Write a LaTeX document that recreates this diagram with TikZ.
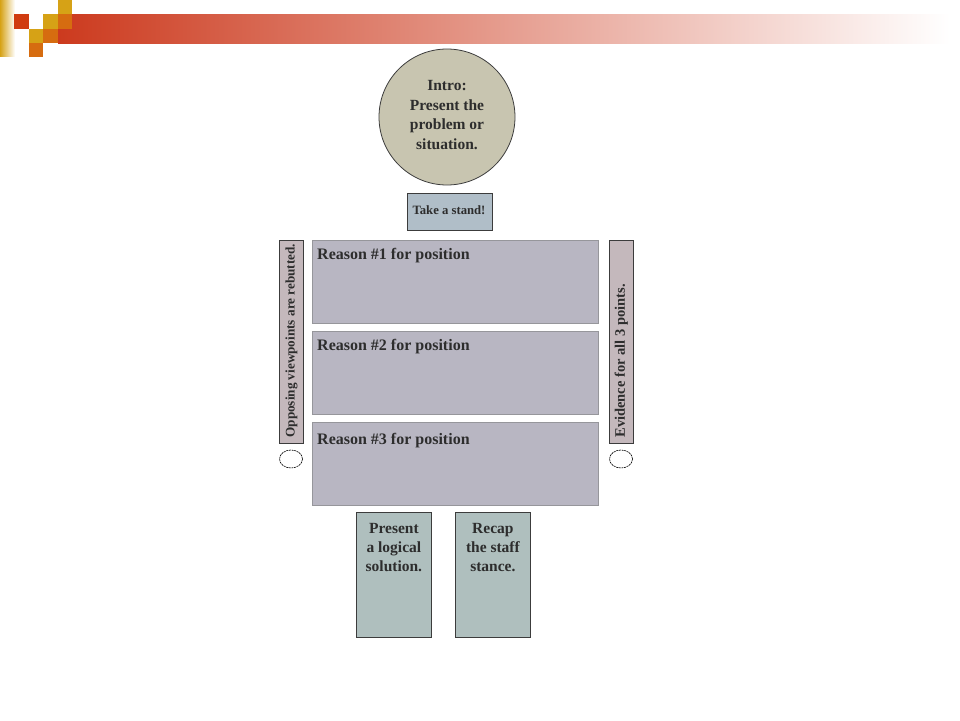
\documentclass[tikz,border=0pt]{standalone}
\usepackage{fontspec}
\setmainfont{Liberation Serif}
\usetikzlibrary{shapes.geometric}
\definecolor{barred}{RGB}{204,58,30}
\definecolor{logogold}{RGB}{214,162,22}
\definecolor{logoorange}{RGB}{214,108,16}
\definecolor{logored}{RGB}{208,60,16}
\definecolor{introfill}{RGB}{200,197,176}
\definecolor{standfill}{RGB}{176,190,200}
\definecolor{sidefill}{RGB}{196,184,188}
\definecolor{reasonfill}{RGB}{184,182,194}
\definecolor{endfill}{RGB}{175,191,190}
\definecolor{txt}{RGB}{45,45,45}
\definecolor{edge}{RGB}{60,60,60}
\definecolor{softedge}{RGB}{150,150,155}
\begin{document}
\begin{tikzpicture}[x=1pt,y=-1pt,
  every node/.style={text=txt},
  rbox/.style={draw=softedge, line width=0.9pt, fill=reasonfill, anchor=north west, inner sep=0, minimum width=286pt, minimum height=83pt},
  sidebox/.style={draw=edge, line width=0.8pt, fill=sidefill, anchor=north west, inner sep=0, minimum width=24pt, minimum height=203pt},
  endbox/.style={draw=edge, line width=0.8pt, fill=endfill, anchor=north west, inner sep=0, minimum width=75pt, minimum height=125pt},
  rlabel/.style={anchor=base west, inner sep=0, font=\fontsize{16}{18}\selectfont\bfseries},
  vlabel/.style={rotate=90, anchor=west, inner sep=0},
  elabel/.style={anchor=north, align=center, inner sep=0, font=\fontsize{15.5}{19}\selectfont\bfseries},
  oval/.style={ellipse, draw=black, line width=0.6pt, dash pattern=on 2pt off 0.7pt, fill=white, inner sep=0, minimum width=23pt, minimum height=18pt}
]
\useasboundingbox (0,0) rectangle (960,720);
% header decoration
\shade[left color=barred, right color=white] (58,14) rectangle (950,43);
\shade[left color=logogold, right color=white] (0,0) rectangle (15,56);
\fill[logored] (14,14) rectangle (29,29);
\fill[logogold] (29,29) rectangle (43,43);
\fill[logoorange] (29,43) rectangle (43,57);
\fill[logogold] (43,14) rectangle (58,29);
\fill[logoorange] (43,29) rectangle (58,43);
\fill[logogold] (58,0) rectangle (72,14);
\fill[logoorange] (58,14) rectangle (72,29);

% intro
\node[circle, draw=edge, line width=0.8pt, fill=introfill, minimum size=136pt, inner sep=0] (intro) at (447,117) {};
\node[align=center, inner sep=0, font=\fontsize{15.5}{19.5}\selectfont\bfseries] (introt) at (447,115) {Intro:\\Present the\\problem or\\situation.};
% take a stand
\node[draw=edge, line width=0.8pt, fill=standfill, anchor=north west, inner sep=0, minimum width=85pt, minimum height=37pt] (stand) at (407,193) {};
\node[font=\fontsize{12.7}{15}\selectfont\bfseries, inner sep=0] (standt) at (449,210) {Take a stand!};

% reasons
\node[rbox] (r1) at (312,240) {};
\node[rbox] (r2) at (312,331) {};
\node[rbox] (r3) at (312,422) {};
\node[rlabel] (r1t) at ([xshift=5pt,yshift=-19pt]r1.north west) {Reason \#1 for position};
\node[rlabel] (r2t) at ([xshift=5pt,yshift=-19pt]r2.north west) {Reason \#2 for position};
\node[rlabel] (r3t) at ([xshift=5pt,yshift=-22pt]r3.north west) {Reason \#3 for position};

% side bars
\node[sidebox] (left) at (279,240) {};
\node[sidebox] (right) at (609,240) {};
\node[vlabel, font=\fontsize{13.2}{15}\selectfont\bfseries] (leftt) at ([yshift=6pt]left.south) {Opposing viewpoints are rebutted.};
\node[vlabel, font=\fontsize{14.5}{16}\selectfont\bfseries] (rightt) at ([yshift=6pt]right.south) {Evidence for all 3 points.};
\node[oval] (lo) at (291,459) {};
\node[oval] (ro) at (621,459) {};

% endings
\node[endbox] (sol) at (356,512) {};
\node[endbox] (recap) at (455,512) {};
\node[elabel] (solt) at ([yshift=-11pt]sol.north) {Present\\a logical\\solution.};
\node[elabel] (recapt) at ([yshift=-11pt]recap.north) {Recap\\the staff\\stance.};
\end{tikzpicture}
\end{document}
